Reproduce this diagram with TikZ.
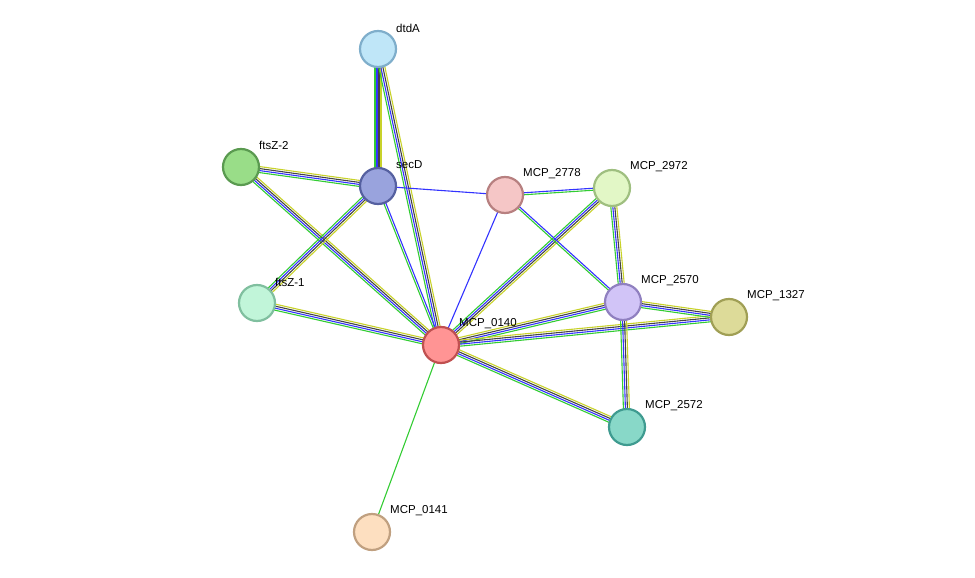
\documentclass[tikz,border=0pt]{standalone}
\usepackage{fontspec}
\setmainfont{Liberation Sans}
\usetikzlibrary{calc,backgrounds}
\definecolor{eg}{HTML}{33CC33}
\definecolor{eb}{HTML}{3333FF}
\definecolor{ed}{HTML}{444444}
\definecolor{ey}{HTML}{C8D22A}
\definecolor{f1}{HTML}{BFE6F8}\definecolor{d1}{HTML}{7FAECB}
\definecolor{f2}{HTML}{99DD88}\definecolor{d2}{HTML}{5A9A50}
\definecolor{f3}{HTML}{99A3DD}\definecolor{d3}{HTML}{5560A0}
\definecolor{f4}{HTML}{F5C6C6}\definecolor{d4}{HTML}{B78080}
\definecolor{f5}{HTML}{E2F7C6}\definecolor{d5}{HTML}{9FBF80}
\definecolor{f6}{HTML}{C1F5D9}\definecolor{d6}{HTML}{80BF9F}
\definecolor{f7}{HTML}{FF9494}\definecolor{d7}{HTML}{C05050}
\definecolor{f8}{HTML}{D1C4F7}\definecolor{d8}{HTML}{9080C0}
\definecolor{f9}{HTML}{DDDB99}\definecolor{d9}{HTML}{A09F55}
\definecolor{f10}{HTML}{88D8C8}\definecolor{d10}{HTML}{3F9B90}
\definecolor{f11}{HTML}{FDDFC0}\definecolor{d11}{HTML}{C0A080}
\tikzset{
  prot/.style={circle,minimum size=36pt,inner sep=0pt,line width=2.2pt,fill=f#1,draw=d#1},
  lab/.style={anchor=west,font=\fontsize{11.5pt}{13pt}\selectfont,inner sep=0pt},
  ln/.style={line width=1.1pt}
}
\newcommand\ledge[3]{\foreach \c/\o in {#3}{\draw[ln,\c] ($(#1.center)!\o pt!90:(#2.center)$) -- ($(#2.center)!\o pt!-90:(#1.center)$);}}
\newcommand\fedge[2]{\ledge{#1}{#2}{eg/-3,eb/-1,ed/1,ey/3}}
\begin{document}
\begin{tikzpicture}[x=1pt,y=-1pt]
\useasboundingbox (0,0) rectangle (975,578);
\node[prot=1] (dtdA) at (378,49) {};
\node[prot=2] (ftsZ2) at (241,167) {};
\node[prot=3] (secD) at (378,186) {};
\node[prot=4] (m2778) at (505,195) {};
\node[prot=5] (m2972) at (612,188) {};
\node[prot=6] (ftsZ1) at (257,303) {};
\node[prot=7] (m0140) at (441,345) {};
\node[prot=8] (m2570) at (623,302) {};
\node[prot=9] (m1327) at (729,317) {};
\node[prot=10] (m2572) at (627,427) {};
\node[prot=11] (m0141) at (372,532) {};
\begin{scope}[on background layer]
\fedge{dtdA}{secD}
\fedge{dtdA}{m0140}
\fedge{ftsZ2}{secD}
\fedge{ftsZ2}{m0140}
\fedge{secD}{ftsZ1}
\fedge{ftsZ1}{m0140}
\fedge{m2972}{m0140}
\fedge{m2972}{m2570}
\fedge{m0140}{m2570}
\fedge{m0140}{m1327}
\fedge{m0140}{m2572}
\fedge{m2570}{m1327}
\fedge{m2570}{m2572}
\ledge{secD}{m0140}{eg/-1,eb/1}
\ledge{secD}{m2778}{eb/0}
\ledge{m2778}{m0140}{eb/0}
\ledge{m2778}{m2972}{eg/-1,eb/1}
\ledge{m2778}{m2570}{eg/-1,eb/1}
\ledge{m0140}{m0141}{eg/0}
\end{scope}
\node[lab] (l1) at ($(dtdA)+(18,-21)$) {dtdA};
\node[lab] (l2) at ($(ftsZ2)+(18,-22)$) {ftsZ-2};
\node[lab] (l3) at ($(secD)+(18,-21)$) {secD};
\node[lab] (l4) at ($(m2778)+(18,-21)$) {MCP\_2778};
\node[lab] (l5) at ($(m2972)+(18,-21)$) {MCP\_2972};
\node[lab] (l6) at ($(ftsZ1)+(18,-21)$) {ftsZ-1};
\node[lab] (l7) at ($(m0140)+(18,-21)$) {MCP\_0140};
\node[lab] (l8) at ($(m2570)+(18,-21)$) {MCP\_2570};
\node[lab] (l9) at ($(m1327)+(18,-21)$) {MCP\_1327};
\node[lab] (l10) at ($(m2572)+(18,-21)$) {MCP\_2572};
\node[lab] (l11) at ($(m0141)+(18,-21)$) {MCP\_0141};
\end{tikzpicture}
\end{document}
